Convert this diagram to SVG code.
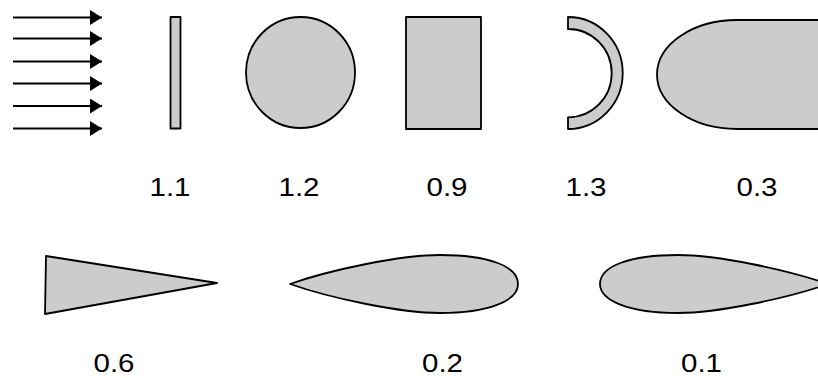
<svg xmlns="http://www.w3.org/2000/svg" width="818" height="378" viewBox="0 0 818 378">
  <style>
    .shape { fill: #cccccc; stroke: #000000; stroke-width: 1.8; stroke-linejoin: round; }
    .flow { stroke: #000000; stroke-width: 2.2; fill: none; marker-end: url(#head); }
    .lbl { font-family: "Liberation Sans", Arial, sans-serif; font-size: 26.5px; fill: #000000; text-anchor: middle; }
  </style>
  <defs>
    <marker id="head" markerWidth="14" markerHeight="16" refX="12" refY="7.5" orient="auto" markerUnits="userSpaceOnUse">
      <path d="M0,0 L12,7.5 L0,15 Z" fill="#000000"/>
    </marker>
    <path id="foil" d="M290,284 C330,270 400,255 440,255 C488,255 518,266 518,284 C518,301 488,313 440,313 C400,313 330,298 290,284 Z"/>
  </defs>
  <rect width="818" height="378" fill="#ffffff"/>

  <g id="connectors">
    <line class="flow" x1="13" y1="17.5" x2="102" y2="17.5"/>
    <line class="flow" x1="13" y1="38.5" x2="102" y2="38.5"/>
    <line class="flow" x1="13" y1="61.5" x2="102" y2="61.5"/>
    <line class="flow" x1="13" y1="83.5" x2="102" y2="83.5"/>
    <line class="flow" x1="13" y1="106" x2="102" y2="106"/>
    <line class="flow" x1="13" y1="128.5" x2="102" y2="128.5"/>
  </g>

  <g id="plate">
    <rect class="shape" x="170.5" y="17" width="10" height="111.5"/>
    <text class="lbl" x="170" y="196" textLength="41" lengthAdjust="spacingAndGlyphs">1.1</text>
  </g>
  <g id="cylinder">
    <ellipse class="shape" cx="300.5" cy="72.5" rx="54.5" ry="55.5"/>
    <text class="lbl" x="299" y="196" textLength="41" lengthAdjust="spacingAndGlyphs">1.2</text>
  </g>
  <g id="block">
    <rect class="shape" x="406" y="17" width="75" height="112"/>
    <text class="lbl" x="447" y="196" textLength="41" lengthAdjust="spacingAndGlyphs">0.9</text>
  </g>
  <g id="halfshell">
    <path class="shape" d="M568,17 A54.7,56 0 0 1 568,129 L568,117.3 A43.7,44.15 0 0 0 568,29 Z"/>
    <text class="lbl" x="586" y="196" textLength="41" lengthAdjust="spacingAndGlyphs">1.3</text>
  </g>
  <g id="bullet">
    <path class="shape" d="M822,20 H737 A80,54.5 0 0 0 737,129 H822 Z"/>
    <text class="lbl" x="757" y="196" textLength="41" lengthAdjust="spacingAndGlyphs">0.3</text>
  </g>
  <g id="wedge">
    <path class="shape" d="M46,256 L217,283 L45,314 Z"/>
    <text class="lbl" x="114" y="372" textLength="41" lengthAdjust="spacingAndGlyphs">0.6</text>
  </g>
  <g id="foil-tail">
    <use href="#foil" class="shape"/>
    <text class="lbl" x="442.5" y="372" textLength="41" lengthAdjust="spacingAndGlyphs">0.2</text>
  </g>
  <g id="foil-nose">
    <use href="#foil" class="shape" transform="translate(1118,0) scale(-1,1)"/>
    <text class="lbl" x="701.5" y="372" textLength="41" lengthAdjust="spacingAndGlyphs">0.1</text>
  </g>
</svg>
